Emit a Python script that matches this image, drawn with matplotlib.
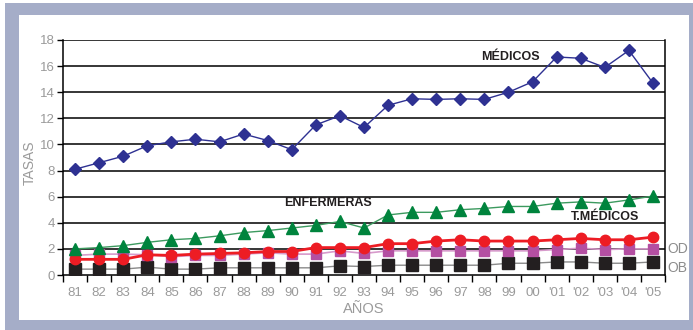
import matplotlib
matplotlib.use("Agg")
import matplotlib.pyplot as plt
from matplotlib.patches import Rectangle

plt.rcParams["font.family"] = ["Liberation Sans", "DejaVu Sans"]

years = ["81", "82", "83", "84", "85", "86", "87", "88", "89", "90", "91", "92", "93",
         "94", "95", "96", "97", "98", "99", "00", "'01", "'02", "'03", "'04", "'05"]

medicos = [8.1, 8.6, 9.1, 9.9, 10.2, 10.4, 10.2, 10.8, 10.3, 9.6, 11.5, 12.2, 11.3,
           13.0, 13.5, 13.45, 13.5, 13.45, 14.0, 14.8, 16.7, 16.6, 15.9, 17.2, 14.7]
enfermeras = [2.0, 2.1, 2.25, 2.5, 2.7, 2.8, 3.0, 3.25, 3.4, 3.6, 3.8, 4.1, 3.6,
              4.6, 4.8, 4.8, 5.0, 5.1, 5.25, 5.25, 5.5, 5.6, 5.5, 5.75, 6.05]
t_medicos = [1.2, 1.2, 1.2, 1.55, 1.5, 1.6, 1.65, 1.7, 1.8, 1.8, 2.1, 2.1, 2.1,
             2.4, 2.4, 2.6, 2.7, 2.6, 2.6, 2.6, 2.7, 2.8, 2.7, 2.7, 2.9]
od = [1.5, 1.6, 1.6, 1.55, 1.4, 1.5, 1.5, 1.6, 1.7, 1.6, 1.6, 1.85, 1.65,
      1.85, 1.85, 1.85, 1.85, 1.85, 1.85, 1.85, 1.95, 2.05, 1.95, 2.0, 2.0]
ob = [0.45, 0.45, 0.45, 0.6, 0.45, 0.45, 0.55, 0.55, 0.55, 0.55, 0.55, 0.7, 0.65,
      0.75, 0.75, 0.75, 0.75, 0.75, 0.9, 0.9, 1.0, 1.0, 0.9, 0.9, 1.0]

W, H = 693, 330
fig = plt.figure(figsize=(W / 100, H / 100), dpi=100)
fig.patch.set_facecolor("white")

frame_col = "#A5ADC8"
fig.patches.append(Rectangle((5 / W, 0), 1 - 5 / W, 1 - 3 / H, transform=fig.transFigure,
                             facecolor=frame_col, edgecolor="none", zorder=-2))
fig.patches.append(Rectangle((19 / W, 10 / H), (689 - 19) / W, (320 - 15) / H,
                             transform=fig.transFigure, facecolor="white",
                             edgecolor="none", zorder=-1))

ax = fig.add_axes([63 / W, 1 - 275 / H, (665 - 63) / W, (275 - 40) / H])
ax.set_facecolor("none")
x = list(range(len(years)))

ax.plot(x, ob, color="#8a8a8a", lw=1, marker="s", ms=8, mfc="#231F20", mec="#231F20", zorder=3)
ax.plot(x, od, color="#D79ACB", lw=1.2, marker="s", ms=7, mfc="#B44FA2", mec="#B44FA2", zorder=4)
ax.plot(x, t_medicos, color="#ED1C24", lw=2, marker="o", ms=7.5, mfc="#ED1C24", mec="#ED1C24", zorder=5)
ax.plot(x, enfermeras, color="#3C9A5F", lw=1, marker="^", ms=8, mfc="#00843D", mec="#00843D", zorder=6)
ax.plot(x, medicos, color="#2E3192", lw=1, marker="D", ms=6.5, mfc="#2E3192", mec="#2E3192", zorder=7)

ax.set_xlim(-0.5, len(years) - 0.5)
ax.set_ylim(0, 18)
ax.set_yticks(range(0, 19, 2))
ax.set_xticks(x)
ax.set_xticklabels(years)
ax.set_xticks([i + 0.5 for i in range(-1, len(years))], minor=True)
ax.tick_params(axis="x", which="major", length=0, pad=9, labelsize=9.5, labelcolor="#9a9a9a")
ax.tick_params(axis="x", which="minor", length=5, width=1, color="black", direction="out")
ax.tick_params(axis="y", length=4, width=1, color="black", pad=2, labelsize=9.5, labelcolor="#9a9a9a")
for yv in range(2, 19, 2):
    ax.axhline(yv, color="black", lw=1.1, zorder=1)
for s in ["left", "right", "bottom"]:
    ax.spines[s].set_color("black")
    ax.spines[s].set_linewidth(1.1)
ax.spines["top"].set_visible(False)

ax.set_ylabel("TASAS", fontsize=10, color="#9a9a9a")
ax.yaxis.set_label_coords(-26 / 602, (275 - 163) / 235)
ax.set_xlabel("AÑOS", fontsize=10.5, color="#9a9a9a", labelpad=2)

ax.text(510 / W, 1 - 57 / H, "MÉDICOS", transform=fig.transFigure, ha="center", va="center",
        fontsize=9, fontweight="bold", color="#231F20")
ax.text(328 / W, 1 - 203 / H, "ENFERMERAS", transform=fig.transFigure, ha="center", va="center",
        fontsize=9, fontweight="bold", color="#231F20")
ax.text(605 / W, 1 - 217 / H, "T.MÉDICOS", transform=fig.transFigure, ha="center", va="center",
        fontsize=9, fontweight="bold", color="#231F20")
ax.text(667 / W, 1 - 249 / H, "OD", transform=fig.transFigure, ha="left", va="center",
        fontsize=10, color="#8c8c8c")
ax.text(667 / W, 1 - 268 / H, "OB", transform=fig.transFigure, ha="left", va="center",
        fontsize=10, color="#8c8c8c")

fig.savefig("out.png", dpi=100)
